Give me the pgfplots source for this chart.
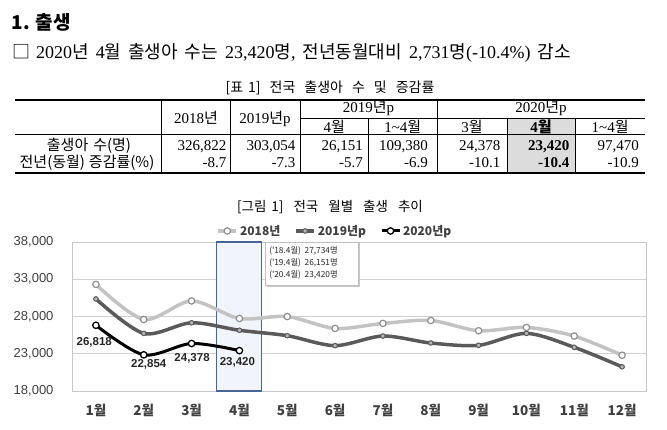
\documentclass[border=0pt]{standalone}
\usepackage{fontspec}
\setmainfont{Liberation Serif}
\newfontfamily\kr{Noto Sans CJK KR}
\newfontfamily\ls{Liberation Sans}
\usepackage{pgfplots}
\pgfplotsset{compat=1.18}
\newcommand\K[1]{{\kr#1}}
\definecolor{lg}{HTML}{C3C3C3}
\definecolor{lgm}{HTML}{8F8F8F}
\definecolor{dg}{HTML}{5A5A5A}
\definecolor{dgm}{HTML}{B5B5B5}
\definecolor{rectb}{HTML}{4A6594}
\definecolor{rectf}{HTML}{F1F4FA}
\definecolor{tk}{HTML}{404040}
\definecolor{cellgray}{HTML}{DCDCDC}
\pgfplotstableread{
x y dx dy lab
1 26818 -1.7 -17.5 26,818
2 22854 5 -10 22,854
3 24378 0.5 -14.5 24,378
4 23420 -2 -11.5 23,420
}\tabtwenty
\begin{document}
\begin{tikzpicture}[x=1pt,y=1pt]
\useasboundingbox (0,0) rectangle (667,430);
% heading
\node[anchor=base west, inner sep=0pt, font=\kr\bfseries\fontsize{19}{22}\selectfont] at (11.5,400.5) {1. 출생};
\node[anchor=base west, inner sep=0pt, font=\fontsize{18}{21}\selectfont] at (12,371)
 {\K{□}\hspace{6pt}2020\K{년}\hspace{7pt}4\K{월}\hspace{7pt}\K{출생아}\hspace{7pt}\K{수는}\hspace{7pt}23,420\K{명},\hspace{7pt}\K{전년동월대비}\hspace{7pt}2,731\K{명}(-10.4\%)\hspace{7pt}\K{감소}};
% table caption
\node[anchor=base, inner sep=0pt, font=\kr\fontsize{14}{16}\selectfont] at (330,337)
 {[표\hspace{5pt}1]\hspace{9pt}전국\hspace{9pt}출생아\hspace{9pt}수\hspace{9pt}및\hspace{9pt}증감률};
% table
\fill[cellgray] (507,311.7) rectangle (575.3,256.7);
\draw[line width=1.6pt] (15,330) -- (645,330);
\draw[line width=1.6pt] (15,256.7) -- (645,256.7);
\draw[line width=0.6pt] (300,311.7) -- (645,311.7);
\draw[line width=0.6pt] (15,295.7) -- (645,295.7);
\foreach \x in {161.7,230,300,437} \draw[line width=0.6pt] (\x,330) -- (\x,256.7);
\foreach \x in {368.7,507,575.3} \draw[line width=0.6pt] (\x,311.7) -- (\x,256.7);
\begin{scope}[every node/.style={inner sep=0pt, font=\fontsize{15}{18}\selectfont}]
\node[anchor=base] at (196,306.5) {2018\K{년}};
\node[anchor=base] at (265,306) {2019\K{년}p};
\node[anchor=base] at (368.5,317) {2019\K{년}p};
\node[anchor=base] at (541,317) {2020\K{년}p};
\node[anchor=base] at (334.3,297.5) {4\K{월}};
\node[anchor=base] at (402.8,297.5) {1\textasciitilde4\K{월}};
\node[anchor=base] at (472,297.5) {3\K{월}};
\node[anchor=base] at (541.1,297.5) {\bfseries 4\K{월}};
\node[anchor=base] at (610.1,297.5) {1\textasciitilde4\K{월}};
\node[anchor=base] at (89,279) {\K{출생아\hspace{5pt}수(명)}};
\node[anchor=base] at (87,262.7) {\K{전년(동월)\hspace{4pt}증감률(\%)}};
\node[anchor=base east] at (226.5,279) {326,822};
\node[anchor=base east] at (295.5,279) {303,054};
\node[anchor=base east] at (363,279) {26,151};
\node[anchor=base east] at (428,279) {109,380};
\node[anchor=base east] at (500.5,279) {24,378};
\node[anchor=base east] at (569.5,279) {\bfseries 23,420};
\node[anchor=base east] at (639,279) {97,470};
\node[anchor=base east] at (226.5,262.7) {-8.7};
\node[anchor=base east] at (295.5,262.7) {-7.3};
\node[anchor=base east] at (363,262.7) {-5.7};
\node[anchor=base east] at (428,262.7) {-6.9};
\node[anchor=base east] at (500.5,262.7) {-10.1};
\node[anchor=base east] at (569.5,262.7) {\bfseries -10.4};
\node[anchor=base east] at (639,262.7) {-10.9};
\end{scope}
% chart title
\node[anchor=base, inner sep=0pt, font=\kr\fontsize{13.5}{16}\selectfont] at (330,218)
 {[그림\hspace{5pt}1]\hspace{10pt}전국\hspace{10pt}월별\hspace{10pt}출생\hspace{10pt}추이};
\begin{axis}[
  at={(72pt,39pt)}, anchor=south west, scale only axis, width=574pt, height=149pt,
  xmin=0.5, xmax=12.5, ymin=18000, ymax=38000,
  xtick={1,2,3,4,5,6,7,8,9,10,11,12},
  xticklabels={1월,2월,3월,4월,5월,6월,7월,8월,9월,10월,11월,12월},
  ytick={18000,23000,28000,33000,38000},
  scaled y ticks=false,
  /pgf/number format/1000 sep={,},
  /pgf/number format/assume math mode=true,
  yticklabel style={font=\ls\fontsize{13}{15}\selectfont, text=tk, xshift=-15pt},
  xticklabel style={font=\kr\bfseries\fontsize{13.5}{15}\selectfont, text=tk, yshift=-10pt},
  major tick length=0pt, tick style={draw=none},
  axis line style={draw=black!22, line width=0.8pt},
  ymajorgrids, grid style={draw=black!18, line width=0.8pt},
  clip=false,
  legend style={at={(0.458,1.074)}, anchor=center, draw=none, fill=none,
    font=\kr\bfseries\fontsize{12}{14}\selectfont, text=tk,
    /tikz/every even column/.append style={column sep=12pt}},
  legend columns=3,
  legend image code/.code={\draw[mark repeat=2,mark phase=2,#1] plot coordinates {(0pt,0pt)(9pt,0pt)(18pt,0pt)};},
]
\draw[fill=rectf, draw=rectb, line width=1.3pt] (axis cs:3.525,18000) rectangle (axis cs:4.466,38000);
\addplot[color=lg, line width=3.5pt, smooth, tension=0.5, mark=*, mark size=3.2pt,
  mark options={fill=white, draw=lgm, line width=1.2pt}] coordinates {
  (1,32311)(2,27600)(3,30089)(4,27734)(5,28000)(6,26400)(7,27067)(8,27467)(9,26089)(10,26533)(11,25378)(12,22800)};
\addlegendentry{2018년}
\addplot[color=dg, line width=3.5pt, smooth, tension=0.5, mark=*, mark size=2.3pt,
  mark options={fill=dgm, draw=dg, line width=1pt}] coordinates {
  (1,30356)(2,25733)(3,27156)(4,26151)(5,25422)(6,24089)(7,25378)(8,24444)(9,24133)(10,25733)(11,23867)(12,21244)};
\addlegendentry{2019년p}
\addplot[color=black, line width=3pt, smooth, tension=0.5, mark=*, mark size=3.2pt,
  mark options={fill=white, draw=black, line width=1.3pt},
  nodes near coords, point meta=explicit symbolic,
  visualization depends on={\thisrow{dx} \as \dx},
  visualization depends on={\thisrow{dy} \as \dy},
  every node near coord/.append style={anchor=center, xshift=\dx pt, yshift=\dy pt, font=\ls\bfseries\fontsize{11.5}{13}\selectfont, text=black!85}]
  table[x=x, y=y, meta=lab] {\tabtwenty};
\addlegendentry{2020년p}
\fill[black!22] (axis cs:4.58,37900) rectangle (axis cs:6.53,32000);
\draw[fill=white, draw=black!25] (axis cs:4.535,38000) rectangle (axis cs:6.48,32228);
\node[anchor=west, inner sep=0pt, font=\kr\fontsize{8.3}{9}\selectfont, text=black!85] at (axis cs:4.62,36832) {('18.4월)\ \ 27,734명};
\node[anchor=west, inner sep=0pt, font=\kr\fontsize{8.3}{9}\selectfont, text=black!85] at (axis cs:4.62,35181) {('19.4월)\ \ 26,151명};
\node[anchor=west, inner sep=0pt, font=\kr\fontsize{8.3}{9}\selectfont, text=black!85] at (axis cs:4.62,33570) {('20.4월)\ \ 23,420명};
\end{axis}
\end{tikzpicture}
\end{document}
